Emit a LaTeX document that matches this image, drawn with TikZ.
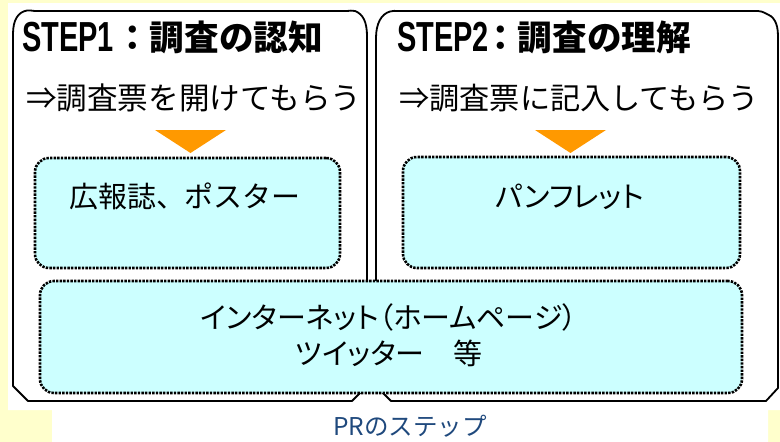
\documentclass[tikz,border=0pt]{standalone}
\usepackage{fontspec}
\newfontfamily\jp{Noto Sans CJK JP}
\newfontfamily\jpp{Noto Sans CJK JP}[RawFeature=+palt]
\newfontfamily\lsans{Liberation Sans}
\definecolor{bgyellow}{HTML}{FFFFCC}
\definecolor{boxcyan}{HTML}{CCFFFF}
\definecolor{arroworange}{HTML}{FF9900}
\definecolor{capblue}{HTML}{1F497D}
\tikzset{
  stepframe/.style={draw=black, line width=1.8pt, fill=white, line join=round},
  dotbox/.style={draw=black, fill=boxcyan, line width=2.6pt, dash pattern=on 2.4pt off 1.2pt,
    rounded corners=14pt, rectangle, inner sep=0pt},
  steplabel/.style={anchor=west, inner sep=0pt},
  downtri/.style={fill=arroworange},
}
\begin{document}
\begin{tikzpicture}[x=1pt,y=-1pt]
\useasboundingbox (0,0) rectangle (780,442);
% background
\fill[bgyellow] (0,0) rectangle (780,442);
\fill[white] (8,3) -- (780,3) -- (780,410) -- (768,410) -- (768,442) -- (52,442) -- (52,410) -- (8,410) -- cycle;
% step frames
\draw[stepframe] (13,386) -- (13,34)
  .. controls (13,20) and (18,12) .. (27,10.5)
  .. controls (30,10) and (32,11) .. (36,11) -- (346,11)
  .. controls (350,11) and (352,10) .. (355,11)
  .. controls (363,14) and (367,22) .. (367,36)
  -- (367,386) -- (352,401) -- (28,401) -- cycle;
\draw[stepframe] (376,386) -- (376,38)
  .. controls (376,24) and (381,14) .. (390,11.5)
  .. controls (393,10.5) and (395,11) .. (398,11) -- (758,11)
  .. controls (761,11) and (763,12) .. (766,13.5)
  .. controls (773,16) and (778,22) .. (778,36)
  -- (778,388) -- (766,401) -- (391,401) -- cycle;
% step titles
\node[steplabel] (s1) at (22,37) {\scalebox{0.69}[1]{\lsans\bfseries\fontsize{42}{42}\selectfont STEP1}};
\node[steplabel, font=\jp\bfseries\fontsize{34.6}{40}\selectfont] (t1) at (115,37) {：調査の認知};
\node[steplabel] (s2) at (397,37) {\scalebox{0.69}[1]{\lsans\bfseries\fontsize{42}{42}\selectfont STEP2}};
\node[steplabel, font=\jp\bfseries\fontsize{34.6}{40}\selectfont] (t2) at (483,37) {：調査の理解};
\node[steplabel, font=\jp\fontsize{30.6}{36}\selectfont] (g1) at (26,98) {⇒調査票を開けてもらう};
\node[steplabel, font=\jp\fontsize{30.2}{36}\selectfont] (g2) at (399,98) {⇒調査票に記入してもらう};
% arrows
\fill[downtri] (155,130) -- (226,130) -- (190.5,153) -- cycle;
\fill[downtri] (535,130) -- (606,130) -- (570.5,153) -- cycle;
% dotted boxes
\node[dotbox, minimum width=305pt, minimum height=110pt] (b1) at (187.5,213) {};
\node[dotbox, minimum width=337pt, minimum height=111pt] (b2) at (571.5,212.5) {};
\node[dotbox, minimum width=702pt, minimum height=112pt] (b3) at (391,337) {};
\node[inner sep=0pt, font=\jp\fontsize{29}{34}\selectfont] (b1t) at (185,196) {広報誌、ポスター};
\node[inner sep=0pt, font=\jpp\fontsize{29}{34}\selectfont] (b2t) at (570,197) {パンフレット};
\node[inner sep=0pt, align=center, font=\jpp\fontsize{29}{36}\selectfont] (b3t) at (389,335) {インターネット（ホームページ）\\ ツイッター　等};
% caption
\node[inner sep=0pt, font=\jp\fontsize{24.5}{28}\selectfont, text=capblue] (cap) at (410,426) {PRのステップ};
\end{tikzpicture}
\end{document}
